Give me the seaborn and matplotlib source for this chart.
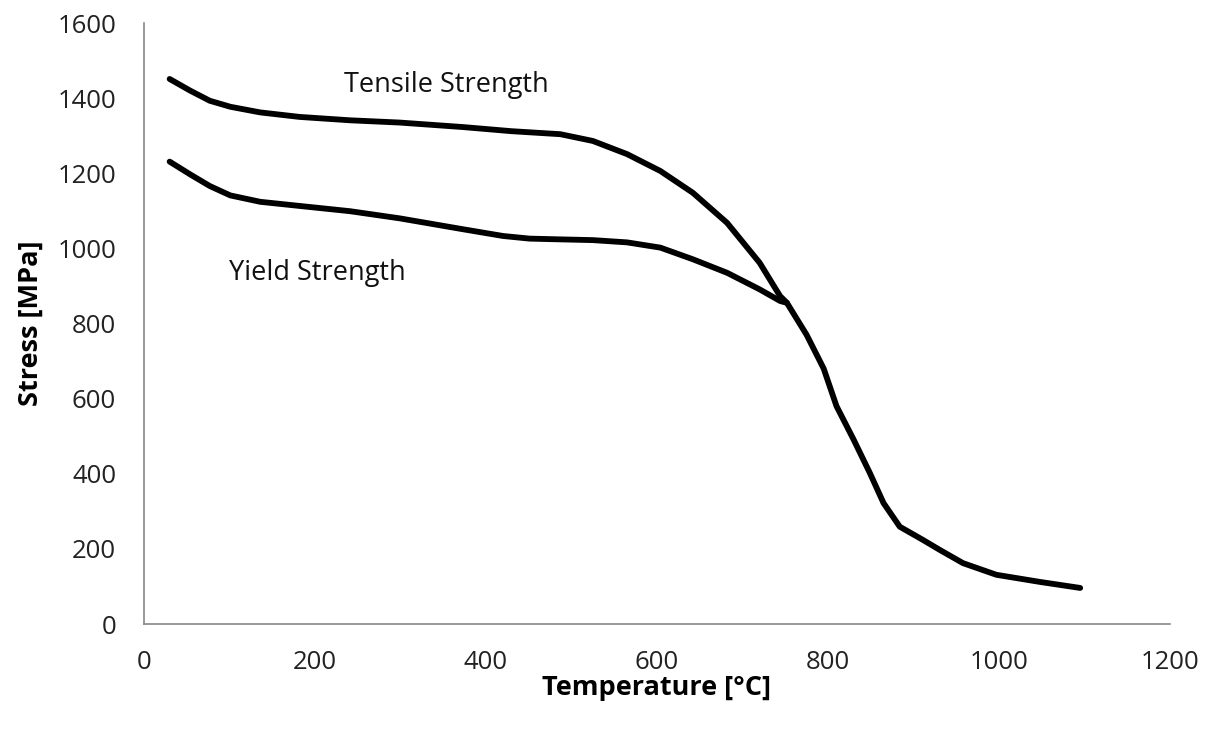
import matplotlib
matplotlib.use("Agg")
import matplotlib.pyplot as plt
import seaborn as sns
import pandas as pd

# Data
tensile_temp = [30, 54, 77, 101, 136, 182, 241, 299, 373, 430, 487, 525, 565, 604, 642, 682, 720, 744, 752]
tensile_stress = [1451, 1420, 1393, 1377, 1362, 1350, 1341, 1335, 1323, 1312, 1304, 1286, 1251, 1206, 1148, 1068, 962, 873, 855]

yield_temp = [30, 54, 77, 101, 136, 182, 241, 299, 373, 420, 451, 487, 525, 565, 604, 642, 682, 720, 744, 752]
yield_stress = [1231, 1197, 1166, 1141, 1124, 1113, 1099, 1080, 1051, 1033, 1026, 1024, 1022, 1016, 1002, 971, 935, 891, 860, 855]

tail_temp = [752, 775, 795, 810, 830, 849, 865, 884, 911, 931, 958, 997, 1048, 1095]
tail_stress = [855, 770, 680, 580, 491, 402, 322, 259, 224, 197, 162, 131, 112, 96]

x_ticks = [0, 200, 400, 600, 800, 1000, 1200]
y_ticks = [0, 200, 400, 600, 800, 1000, 1200, 1400, 1600]

labels = ["Tensile Strength", "Yield Strength"]
label_pos = [(354, 1416), (203, 917)]

df = pd.concat([
    pd.DataFrame({"T": tensile_temp + tail_temp[1:], "S": tensile_stress + tail_stress[1:], "series": "Tensile"}),
    pd.DataFrame({"T": yield_temp, "S": yield_stress, "series": "Yield"}),
], ignore_index=True)

sns.set_theme(style="white")
plt.rcParams['font.family'] = ['Open Sans', 'DejaVu Sans']

fig = plt.figure(figsize=(12.12, 7.33), dpi=100)
ax = fig.add_axes([0.1188, 0.1487, 0.9653 - 0.1188, 0.9686 - 0.1487])

sns.lineplot(data=df, x="T", y="S", units="series", estimator=None, sort=False,
             color="black", linewidth=4.2, ax=ax, legend=False)
for ln in ax.lines:
    ln.set_solid_capstyle("round")
    ln.set_solid_joinstyle("round")

ax.set_xlim(0, 1200)
ax.set_ylim(0, 1600)
ax.set_xticks(x_ticks)
ax.set_yticks(y_ticks)
ax.tick_params(axis="both", labelsize=18.5, colors="#888888", labelcolor="#222222",
               direction="out", length=8, width=1)
ax.tick_params(axis="x", pad=11)
ax.tick_params(axis="y", pad=12)
for side in ["top", "right"]:
    ax.spines[side].set_visible(False)
for side in ["left", "bottom"]:
    ax.spines[side].set_color("#888888")
    ax.spines[side].set_linewidth(1.2)

ax.set_xlabel("Temperature [°C]", fontsize=19.5, fontweight="bold", color="black", labelpad=0)
ax.set_ylabel("Stress [MPa]", fontsize=19.5, fontweight="bold", color="black", labelpad=10)

for txt, (tx, ty) in zip(labels, label_pos):
    ax.text(tx, ty, txt, fontsize=19.5, color="#111111", ha="center", va="baseline")

fig.savefig("out.png", dpi=100)
